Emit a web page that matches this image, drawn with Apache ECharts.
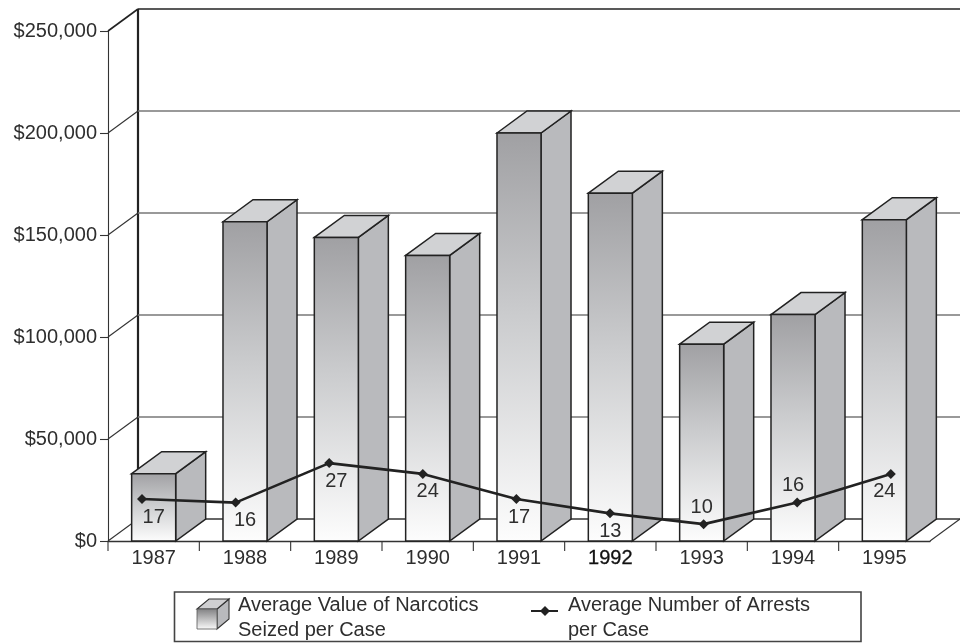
<!DOCTYPE html>
<html><head><meta charset="utf-8">
<style>html,body{margin:0;padding:0;background:#fff}#c{width:960px;height:643px}</style>
<script src="https://cdn.jsdelivr.net/npm/echarts@6/dist/echarts.min.js"></script>
</head><body><div id="c"></div>
<script>
const years = ['1987','1988','1989','1990','1991','1992','1993','1994','1995'];
const narcoticsValue = [33000,156500,148800,140000,200000,170500,96500,111000,157500];
const arrests = [17,16,27,24,17,13,10,16,24];
const labelSide = ['below','below','below','below','below','below','above','above','below'];
const wallTicks = [0,50000,100000,150000,200000,250000];
const legendBar = ['Average Value of Narcotics','Seized per Case'];
const legendLine = ['Average Number of Arrests','per Case'];

const FONT = '"Liberation Sans", Arial, sans-serif';
const INK = '#2e2e2e';
const SIZE = 20;
const DX = 30, DY = -22;
const chart = echarts.init(document.getElementById('c'), null, {renderer:'canvas'});

function renderWall(params, api){
  const v = api.value(0);
  const p = api.coord([0, v]);
  const cs = params.coordSys;
  const x0 = cs.x, y = p[1];
  const isTop = v === 250000, isFloor = v === 0;
  const children = [
    {type:'line', shape:{x1:x0,y1:y,x2:x0+DX,y2:y+DY}, style:{stroke:isTop?'#222':'#333',lineWidth:isTop?1.6:1.1}},
    {type:'line', shape:{x1:x0+DX,y1:y+DY,x2:cs.x+cs.width+DX,y2:y+DY},
     style:{stroke:isTop?'#222':(isFloor?'#333':'#777'),lineWidth:isTop?1.6:1.4}}
  ];
  if(isFloor){
    children.push({type:'line', shape:{x1:cs.x+cs.width,y1:y,x2:cs.x+cs.width+DX,y2:y+DY}, style:{stroke:'#333',lineWidth:1.1}});
    children.push({type:'line', shape:{x1:x0+DX,y1:y+DY,x2:x0+DX,y2:y+DY-cs.height}, style:{stroke:'#222',lineWidth:2.2}});
  }
  return {type:'group', children};
}
function renderBar(params, api){
  const top = api.coord([api.value(0), api.value(1)]);
  const base = api.coord([api.value(0), 0]);
  const band = api.size([1,0])[0];
  const w = band*0.482;
  const l = top[0]-w/2, r = top[0]+w/2, t = top[1], b = base[1];
  const tx = top[0]-band/2;
  const line = {stroke:'#222', lineWidth:1.5, lineJoin:'miter'};
  return {type:'group', children:[
    {type:'line', shape:{x1:tx,y1:b,x2:tx,y2:b+10}, style:{stroke:'#333',lineWidth:1.1}},
    {type:'polygon', shape:{points:[[r,t],[r+DX,t+DY],[r+DX,b+DY],[r,b]]}, style:Object.assign({fill:'#b9babd'},line)},
    {type:'polygon', shape:{points:[[l,t],[l+DX,t+DY],[r+DX,t+DY],[r,t]]}, style:Object.assign({fill:'#d1d2d4'},line)},
    {type:'rect', shape:{x:l,y:t,width:w,height:b-t}, style:Object.assign({
      fill:new echarts.graphic.LinearGradient(0,0,0,1,[{offset:0,color:'#a0a0a3'},{offset:0.45,color:'#cbccce'},{offset:1,color:'#fdfdfd'}])},line)}
  ]};
}
function renderCount(params, api){
  const p = api.coord([api.value(0), api.value(1)]);
  const side = labelSide[params.dataIndex];
  return {type:'text', x:p[0], y:p[1]+(side==='below'?18:-17), style:{
    text:String(api.value(1)), fill:INK, font:SIZE+'px '+FONT, textAlign:'center', textVerticalAlign:'middle'}};
}

const txt = (text,x,y) => ({type:'text', x, y, style:{text, fill:INK, font:SIZE+'px '+FONT, textVerticalAlign:'middle'}});

chart.setOption({
  animation:false,
  textStyle:{fontFamily:FONT},
  grid:[
    {left:108, top:31, width:822, height:510, containLabel:false},
    {left:95.2, top:31, width:842.4, height:510}
  ],
  xAxis:[
    {type:'category', gridIndex:0, boundaryGap:true,
     data:years.map(y=>y==='1992'?{value:y,textStyle:{color:'#111',textBorderColor:'#111',textBorderWidth:0.3}}:y),
     axisLine:{lineStyle:{color:'#333',width:1.4}},
     axisTick:{show:false},
     axisLabel:{color:INK,fontSize:SIZE,fontFamily:FONT,margin:7},
     splitLine:{show:false}},
    {type:'category', gridIndex:1, data:years, show:false}
  ],
  yAxis:[
    {type:'value', gridIndex:0, min:0, max:250000, interval:50000,
     axisLine:{show:true,lineStyle:{color:'#333',width:1.1}},
     axisTick:{show:true,length:8,lineStyle:{color:'#333',width:1.1}},
     axisLabel:{color:INK,fontSize:SIZE,fontFamily:FONT,margin:11,
       formatter:v=>'$'+v.toLocaleString('en-US')},
     splitLine:{show:false}},
    {type:'value', gridIndex:1, min:5.3, max:147.4, show:false, splitLine:{show:false}},
    {type:'value', gridIndex:0, min:5.3, max:147.4, show:false, splitLine:{show:false}}
  ],
  series:[
    {type:'custom', name:'wall', xAxisIndex:0, yAxisIndex:0, z:1, silent:true,
     clip:false, encode:{y:0}, data:wallTicks.map(v=>[v]), renderItem:renderWall},
    {type:'custom', name:'Average Value of Narcotics Seized per Case', xAxisIndex:0, yAxisIndex:0, z:2,
     clip:false, encode:{x:0,y:1}, data:narcoticsValue.map((v,i)=>[i,v]), renderItem:renderBar},
    {type:'line', name:'Average Number of Arrests per Case', xAxisIndex:1, yAxisIndex:1, z:3, data:arrests,
     symbol:'diamond', symbolSize:10, showAllSymbol:true,
     lineStyle:{color:'#222',width:2.6}, itemStyle:{color:'#222'}},
    {type:'custom', name:'counts', xAxisIndex:0, yAxisIndex:2, z:4, clip:false,
     encode:{x:0,y:1}, data:arrests.map((v,i)=>[i,v]), renderItem:renderCount}
  ],
  graphic:[
    {type:'rect', shape:{x:174.5,y:592,width:686.5,height:49.5}, style:{fill:'#fff',stroke:'#444',lineWidth:1.6}},
    {type:'polygon', shape:{points:[[217,609],[229,599],[229,619],[217,629]]}, style:{fill:'#b9babd',stroke:'#333',lineWidth:1.1}},
    {type:'polygon', shape:{points:[[197,609],[209,599],[229,599],[217,609]]}, style:{fill:'#cfcfd1',stroke:'#333',lineWidth:1.1}},
    {type:'rect', shape:{x:197,y:609,width:20,height:20}, style:{
      fill:new echarts.graphic.LinearGradient(0,0,0,1,[{offset:0,color:'#808082'},{offset:1,color:'#fbfbfb'}]),stroke:'#555',lineWidth:0.8}},
    txt(legendBar[0],238,605), txt(legendBar[1],238,630),
    {type:'line', shape:{x1:531,y1:611,x2:558,y2:611}, style:{stroke:'#222',lineWidth:2}},
    {type:'polygon', shape:{points:[[545,606],[550,611],[545,616],[540,611]]}, style:{fill:'#222'}},
    txt(legendLine[0],568,605), txt(legendLine[1],568,630)
  ]
});
</script></body></html>
